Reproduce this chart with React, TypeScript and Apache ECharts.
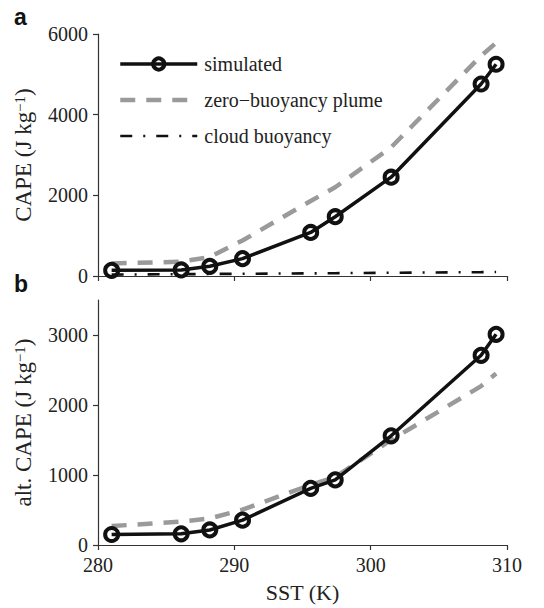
import React, { useEffect, useRef } from "react";
import * as echarts from "echarts";

const sst = [281.0, 286.1, 288.2, 290.6, 295.6, 297.4, 301.5, 308.1, 309.2];
const simTop = [140, 150, 240, 430, 1080, 1470, 2450, 4760, 5250];
const plumeTop = [310, 355, 470, 880, 1860, 2200, 3190, 5460, 5780];
const cloudTop = [35, 45, 50, 55, 65, 70, 80, 95, 100];
const simBottom = [150, 160, 215, 355, 810, 930, 1560, 2710, 3010];
const plumeBottom = [270, 335, 380, 505, 860, 970, 1500, 2270, 2450];

const xTicks = [280, 290, 300, 310];
const yTicksTop = [0, 2000, 4000, 6000];
const yTicksBottom = [0, 1000, 2000, 3000];

const seriesNames = ["simulated", "zero\u2212buoyancy plume", "cloud buoyancy"];

const SERIF = "Liberation Serif";
const TXT = "#222";
const AX = "#333";

const pairs = (ys: number[]) => sst.map((x, i) => [x, ys[i]]);
const plain = (v: number) => String(v);

export default function App() {
  const ref = useRef<HTMLDivElement>(null);
  useEffect(() => {
    document.body.style.margin = "0";
    if (!ref.current) return;
    const chart = echarts.init(ref.current, null, { renderer: "svg" });

    const axisCommon = {
      axisLine: { show: true, lineStyle: { color: AX, width: 1.2 } },
      splitLine: { show: false },
    };

    const labelStyle = {
      fontFamily: SERIF,
      fontSize: 20,
      color: TXT,
      margin: 10,
      formatter: plain,
    };

    const xAxisBase = (gridIndex: number, showLabel: boolean) => ({
      type: "value",
      gridIndex,
      min: 280,
      max: 310,
      interval: 10,
      ...axisCommon,
      axisLabel: { ...labelStyle, show: showLabel, customValues: xTicks },
      axisTick: { show: true, length: 5, customValues: xTicks, lineStyle: { color: AX, width: 1.2 } },
    });

    const nameStyle = {
      fontFamily: SERIF,
      fontSize: 23,
      color: TXT,
      rich: {
        sup: { fontFamily: SERIF, fontSize: 15, color: TXT, verticalAlign: "top", lineHeight: 23 },
      },
    };

    const simSeries = (xi: number, data: number[][]) => ({
      name: seriesNames[0],
      type: "line",
      xAxisIndex: xi,
      yAxisIndex: xi,
      data,
      symbol: "circle",
      symbolSize: 13,
      z: 5,
      lineStyle: { color: "#111", width: 3.5 },
      itemStyle: { color: "rgba(255,255,255,0)", borderColor: "#111", borderWidth: 4 },
    });

    const plumeSeries = (xi: number, data: number[][]) => ({
      name: seriesNames[1],
      type: "line",
      xAxisIndex: xi,
      yAxisIndex: xi,
      data,
      symbol: "none",
      z: 3,
      lineStyle: { color: "#9a9a9a", width: 4.5, type: [15, 11] },
      itemStyle: { color: "rgba(0,0,0,0)", borderWidth: 0 },
    });

    const option = {
      animation: false,
      backgroundColor: "#fff",
      textStyle: { fontFamily: SERIF },
      grid: [
        { left: 98, top: 34, width: 409, height: 242 },
        { left: 98, top: 300, width: 409, height: 245 },
      ],
      xAxis: [
        xAxisBase(0, false),
        {
          ...xAxisBase(1, true),
          name: "SST (K)",
          nameLocation: "middle",
          nameGap: 36,
          nameTextStyle: { fontFamily: SERIF, fontSize: 22, color: TXT },
        },
      ],
      yAxis: [
        {
          type: "value",
          gridIndex: 0,
          min: 0,
          max: 6000,
          interval: 2000,
          ...axisCommon,
          axisLabel: { ...labelStyle, customValues: yTicksTop },
          axisTick: { show: true, length: 5, customValues: yTicksTop, lineStyle: { color: AX, width: 1.2 } },
          name: "CAPE (J kg{sup|\u22121})",
          nameLocation: "middle",
          nameGap: 63,
          nameTextStyle: nameStyle,
        },
        {
          type: "value",
          gridIndex: 1,
          min: 0,
          max: 3500,
          ...axisCommon,
          axisLabel: { ...labelStyle, customValues: yTicksBottom },
          axisTick: { show: true, length: 5, customValues: yTicksBottom, lineStyle: { color: AX, width: 1.2 } },
          name: "alt. CAPE (J kg{sup|\u22121})",
          nameLocation: "middle",
          nameGap: 63,
          nameTextStyle: nameStyle,
        },
      ],
      legend: {
        data: seriesNames,
        orient: "vertical",
        left: 113,
        top: 49,
        itemWidth: 77,
        itemHeight: 14,
        itemGap: 16,
        selectedMode: false,
        lineStyle: { width: "inherit" },
        itemStyle: { borderWidth: "inherit" },
        textStyle: { fontFamily: SERIF, fontSize: 20, color: TXT, padding: [0, 0, 0, 2] },
      },
      graphic: [
        {
          type: "text",
          left: 14,
          top: 5,
          style: { text: "a", fontFamily: "Liberation Sans", fontWeight: "bold", fontSize: 23, fill: "#111" },
        },
        {
          type: "text",
          left: 14,
          top: 272,
          style: { text: "b", fontFamily: "Liberation Sans", fontWeight: "bold", fontSize: 23, fill: "#111" },
        },
      ],
      series: [
        plumeSeries(0, pairs(plumeTop)),
        {
          name: seriesNames[2],
          type: "line",
          xAxisIndex: 0,
          yAxisIndex: 0,
          data: pairs(cloudTop),
          symbol: "none",
          z: 2,
          lineStyle: { color: "#111", width: 2.6, type: [12, 11, 2, 11] },
          itemStyle: { color: "rgba(0,0,0,0)", borderWidth: 0 },
        },
        simSeries(0, pairs(simTop)),
        plumeSeries(1, pairs(plumeBottom)),
        simSeries(1, pairs(simBottom)),
      ],
    };

    chart.setOption(option as any);
    return () => chart.dispose();
  }, []);

  return <div ref={ref} style={{ width: 544, height: 608 }} />;
}
